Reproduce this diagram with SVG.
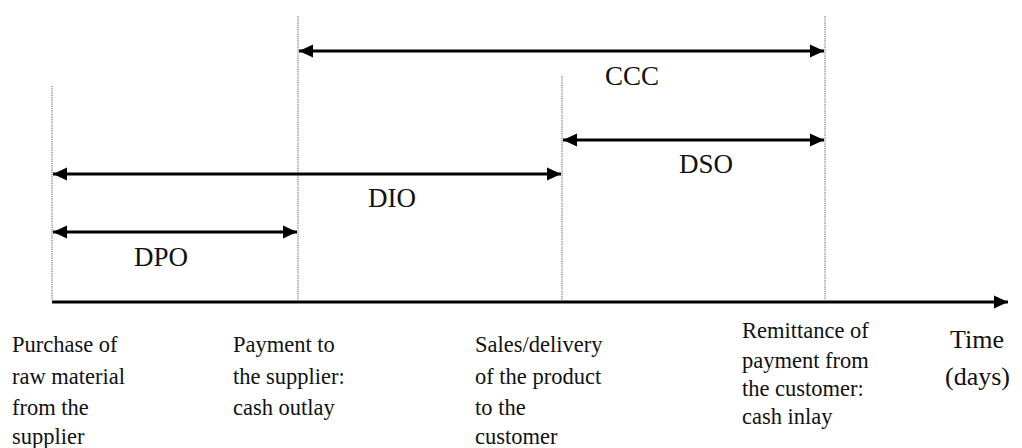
<svg xmlns="http://www.w3.org/2000/svg" width="1022" height="448" viewBox="0 0 1022 448">
  <style>
    .guide { stroke: #9a9a9a; stroke-width: 1.6; stroke-dasharray: 1.2 1; fill: none; }
    .span { stroke: #000; stroke-width: 3; fill: none; }
    .lbl { font-family: "Liberation Serif", "Times New Roman", serif; font-size: 27px; fill: #111; text-anchor: middle; }
    .note { font-family: "Liberation Serif", "Times New Roman", serif; font-size: 22.5px; fill: #111; }
    .time { font-family: "Liberation Serif", "Times New Roman", serif; font-size: 26px; fill: #111; }
  </style>
  <defs>
    <marker id="head" markerUnits="userSpaceOnUse" markerWidth="15" markerHeight="14" refX="14" refY="7" orient="auto-start-reverse">
      <path d="M0,0.5 L14,7 L0,13.5 z" fill="#000"/>
    </marker>
  </defs>
  <rect width="1022" height="448" fill="#fff"/>

  <!-- event markers -->
  <g id="guides">
    <line class="guide" x1="52" y1="86" x2="52" y2="300"/>
    <line class="guide" x1="298" y1="16" x2="298" y2="300"/>
    <line class="guide" x1="562" y1="76" x2="562" y2="300"/>
    <line class="guide" x1="825" y1="16" x2="825" y2="300"/>
  </g>

  <!-- period spans and time axis -->
  <g id="connectors">
    <line class="span" x1="299" y1="51" x2="824" y2="51" marker-start="url(#head)" marker-end="url(#head)"/>
    <line class="span" x1="563" y1="140" x2="824" y2="140" marker-start="url(#head)" marker-end="url(#head)"/>
    <line class="span" x1="53" y1="174" x2="561" y2="174" marker-start="url(#head)" marker-end="url(#head)"/>
    <line class="span" x1="53" y1="232" x2="297" y2="232" marker-start="url(#head)" marker-end="url(#head)"/>
    <line class="span" x1="52" y1="302" x2="1008" y2="302" marker-end="url(#head)"/>
  </g>

  <g id="ccc"><text class="lbl" x="632" y="85">CCC</text></g>
  <g id="dso"><text class="lbl" x="706" y="173">DSO</text></g>
  <g id="dio"><text class="lbl" x="392" y="207">DIO</text></g>
  <g id="dpo"><text class="lbl" x="161" y="266">DPO</text></g>

  <g id="purchase">
    <text class="note" x="12" y="352">Purchase of</text>
    <text class="note" x="12" y="384">raw material</text>
    <text class="note" x="12" y="415">from the</text>
    <text class="note" x="12" y="444">supplier</text>
  </g>
  <g id="payment">
    <text class="note" x="233" y="352">Payment to</text>
    <text class="note" x="233" y="384">the supplier:</text>
    <text class="note" x="233" y="415">cash outlay</text>
  </g>
  <g id="sales">
    <text class="note" x="475" y="352">Sales/delivery</text>
    <text class="note" x="475" y="384">of the product</text>
    <text class="note" x="475" y="415">to the</text>
    <text class="note" x="475" y="444">customer</text>
  </g>
  <g id="remittance">
    <text class="note" x="742" y="338">Remittance of</text>
    <text class="note" x="742" y="368">payment from</text>
    <text class="note" x="742" y="396">the customer:</text>
    <text class="note" x="742" y="424">cash inlay</text>
  </g>
  <g id="time">
    <text class="time" x="950" y="348">Time</text>
    <text class="time" x="945" y="385">(days)</text>
  </g>
</svg>
